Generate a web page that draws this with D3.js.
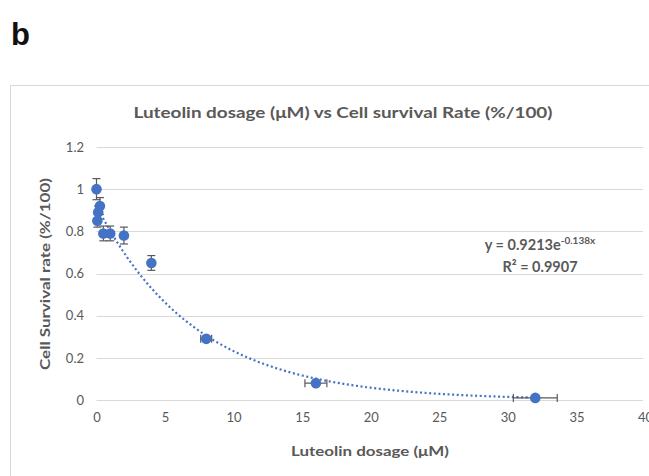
<!DOCTYPE html>
<html><head><meta charset="utf-8">
<script src="https://cdn.jsdelivr.net/npm/d3@7"></script>
<style>body{margin:0;background:#fff}svg{display:block}</style>
</head><body>
<script>
const doses = [0, 0.0625, 0.125, 0.25, 0.5, 1, 2, 4, 8, 16, 32];
const survival = [1.0, 0.85, 0.89, 0.92, 0.79, 0.79, 0.78, 0.65, 0.29, 0.08, 0.01];
const yErr = [0.05, 0.03, 0.03, 0.04, 0.035, 0.035, 0.04, 0.035, 0.012, 0.01, 0.005];
const xErrFrac = 0.05;
const xTicks = [0, 5, 10, 15, 20, 25, 30, 35, 40];
const yTicks = [0, 0.2, 0.4, 0.6, 0.8, 1, 1.2];
const fitA = 0.9213, fitB = -0.138;

const W = 649, H = 476;
const svg = d3.select("body").append("svg").attr("width", W).attr("height", H);
const gray = "#595959", grid = "#d9d9d9", blue = "#4472C4";
const font = "Lato, 'Open Sans', sans-serif";

svg.append("text").attr("x", 11).attr("y", 45).text("b")
  .attr("font-family", "'Liberation Sans', Arial, sans-serif").attr("font-weight", "bold")
  .attr("font-size", 31).attr("fill", "#111");

svg.append("rect").attr("x", 10.5).attr("y", 85.5).attr("width", 700).attr("height", 500)
  .attr("fill", "none").attr("stroke", grid);

const x = d3.scaleLinear().domain([0, 40]).range([96.5, 645]);
const y = d3.scaleLinear().domain([0, 1.2]).range([400, 147]);

svg.append("g").selectAll("line").data(yTicks).join("line")
  .attr("x1", x(0)).attr("x2", 643).attr("y1", d => Math.round(y(d)) + 0.5).attr("y2", d => Math.round(y(d)) + 0.5)
  .attr("stroke", grid).attr("stroke-width", 1);

const yAxis = d3.axisLeft(y).tickValues(yTicks).tickSize(0).tickPadding(0).tickFormat(d3.format("~g"));
const ga = svg.append("g").attr("transform", "translate(84,0)").call(yAxis);
ga.select(".domain").remove();
ga.selectAll("text").attr("fill", gray).attr("font-size", 13).attr("font-family", font);

const xAxis = d3.axisBottom(x).tickValues(xTicks).tickSize(0).tickPadding(0);
const gx = svg.append("g").attr("transform", "translate(0,413)").call(xAxis);
gx.select(".domain").remove();
gx.selectAll("text").attr("fill", gray).attr("font-size", 13).attr("font-family", font);

const fitX = d3.range(0, 32.001, 0.25);
const line = d3.line().x(d => x(d)).y(d => y(fitA * Math.exp(fitB * d)));
svg.append("path").datum(fitX).attr("d", line).attr("fill", "none")
  .attr("stroke", blue).attr("stroke-width", 2.2).attr("stroke-dasharray", "2 2.6");

const pts = doses.map((d, i) => ({x: d, y: survival[i], e: yErr[i], ex: d * xErrFrac}));
const eb = svg.append("g").attr("stroke", gray).attr("stroke-width", 1.2).attr("fill", "none");
pts.forEach(p => {
  const cx = x(p.x), cy = y(p.y);
  eb.append("line").attr("x1", cx).attr("x2", cx).attr("y1", y(p.y + p.e)).attr("y2", y(p.y - p.e));
  eb.append("line").attr("x1", cx - 4).attr("x2", cx + 4).attr("y1", y(p.y + p.e)).attr("y2", y(p.y + p.e));
  eb.append("line").attr("x1", cx - 4).attr("x2", cx + 4).attr("y1", y(p.y - p.e)).attr("y2", y(p.y - p.e));
  if (p.ex > 0) {
    eb.append("line").attr("x1", x(p.x - p.ex)).attr("x2", x(p.x + p.ex)).attr("y1", cy).attr("y2", cy);
    eb.append("line").attr("x1", x(p.x - p.ex)).attr("x2", x(p.x - p.ex)).attr("y1", cy - 4).attr("y2", cy + 4);
    eb.append("line").attr("x1", x(p.x + p.ex)).attr("x2", x(p.x + p.ex)).attr("y1", cy - 4).attr("y2", cy + 4);
  }
});

svg.append("g").selectAll("circle").data(pts).join("circle")
  .attr("cx", d => x(d.x)).attr("cy", d => y(d.y)).attr("r", 5.3).attr("fill", blue);

svg.append("text").attr("x", 343).attr("y", 118).attr("text-anchor", "middle")
  .attr("font-family", font).attr("font-weight", "bold").attr("font-size", 14.5).attr("fill", gray)
  .attr("textLength", 419).attr("lengthAdjust", "spacingAndGlyphs")
  .text("Luteolin dosage (μM) vs Cell survival Rate (%/100)");

svg.append("text").attr("x", 370).attr("y", 456).attr("text-anchor", "middle")
  .attr("font-family", font).attr("font-weight", "bold").attr("font-size", 13).attr("fill", gray)
  .attr("textLength", 158).attr("lengthAdjust", "spacingAndGlyphs")
  .text("Luteolin dosage (μM)");

svg.append("text").attr("transform", "translate(50,274) rotate(-90)").attr("text-anchor", "middle")
  .attr("font-family", font).attr("font-weight", "bold").attr("font-size", 13).attr("fill", gray)
  .attr("textLength", 192).attr("lengthAdjust", "spacingAndGlyphs")
  .text("Cell Survival rate (%/100)");

const eq = svg.append("text").attr("x", 540).attr("y", 250).attr("text-anchor", "middle")
  .attr("font-family", font).attr("font-weight", "bold").attr("font-size", 14.5).attr("fill", gray);
eq.append("tspan").text("y = 0.9213e");
eq.append("tspan").attr("font-size", 10).attr("dy", -6).text("-0.138x");
const r2 = svg.append("text").attr("x", 540).attr("y", 272).attr("text-anchor", "middle")
  .attr("font-family", font).attr("font-weight", "bold").attr("font-size", 14.5).attr("fill", gray);
r2.append("tspan").text("R² = 0.9907");
</script>
</body></html>
